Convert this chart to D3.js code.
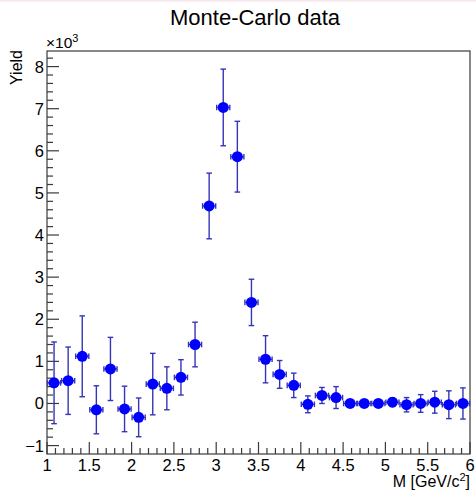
<!DOCTYPE html>
<html>
<head>
<meta http-equiv="Content-Type" content="text/html;charset=utf-8">
<script src="https://d3js.org/d3.v7.min.js"></script>
<title>Monte-Carlo data</title>
<style>
  body { margin: 0; background: #fff; }
  svg { display: block; }
  text { font-family: "Liberation Sans", Arial, sans-serif; fill: #000; }
</style>
</head>
<body>
<svg width="476" height="494"></svg>
<script>
// histogram: 30 bins between 1 and 6 GeV/c^2, values in units of 10^3
var binLow = 1, binHigh = 6;
var yields = [0.49, 0.54, 1.12, -0.15, 0.82, -0.13, -0.33, 0.46, 0.36, 0.62,
              1.40, 4.69, 7.03, 5.86, 2.40, 1.05, 0.69, 0.43, -0.02, 0.19,
              0.14, 0.00, 0.00, 0.00, 0.03, -0.03, 0.00, 0.03, -0.03, 0.00];
var errors = [0.97, 0.80, 0.96, 0.57, 0.75, 0.54, 0.46, 0.73, 0.51, 0.42,
              0.53, 0.78, 0.91, 0.84, 0.55, 0.56, 0.33, 0.29, 0.20, 0.19,
              0.26, 0.06, 0.06, 0.06, 0.10, 0.17, 0.21, 0.26, 0.33, 0.37];
var xTicks = [1, 1.5, 2, 2.5, 3, 3.5, 4, 4.5, 5, 5.5, 6];
var yTicks = [-1, 0, 1, 2, 3, 4, 5, 6, 7, 8];

// frame edges (px); "top" is reserved on window so use other names
var frameL = 47, frameR = 470, frameT = 51, frameB = 454;
var nBins = yields.length;
var bw = (binHigh - binLow) / nBins;

var svg = d3.select("svg");

var x = d3.scaleLinear().domain([binLow, binHigh]).range([frameL, frameR]);
var y = d3.scaleLinear().domain([-1.2, 8.37]).range([frameB, frameT]);

// faint canvas border at top
svg.append("rect").attr("x", 0).attr("y", 0).attr("width", 476).attr("height", 1.5)
    .attr("fill", "#f6e6ea");

// frame
svg.append("rect")
    .attr("x", frameL).attr("y", frameT)
    .attr("width", frameR - frameL).attr("height", frameB - frameT)
    .attr("fill", "none").attr("stroke", "#3a3a3a").attr("stroke-width", 1.2);

// x ticks (pointing inward)
var xMinor = d3.range(0, 51).map(function(i){ return binLow + i * 0.1; });
svg.append("g").selectAll("line").data(xMinor).enter().append("line")
    .attr("x1", function(d){ return x(d); }).attr("x2", function(d){ return x(d); })
    .attr("y1", frameB)
    .attr("y2", function(d, i){ return frameB - (i % 5 === 0 ? 12 : 6); })
    .attr("stroke", "#3a3a3a").attr("stroke-width", 1.2);

svg.append("g").selectAll("text").data(xTicks).enter().append("text")
    .attr("x", function(d){ return x(d); })
    .attr("y", 471)
    .attr("text-anchor", "middle")
    .attr("font-size", 16.5)
    .text(function(d){ return d; });

// y ticks
var yMinor = d3.range(0, 47).map(function(i){ return -1 + i * 0.2; });
svg.append("g").selectAll("line").data(yMinor).enter().append("line")
    .attr("y1", function(d){ return y(d); }).attr("y2", function(d){ return y(d); })
    .attr("x1", frameL)
    .attr("x2", function(d, i){ return frameL + (i % 5 === 0 ? 12 : 6); })
    .attr("stroke", "#3a3a3a").attr("stroke-width", 1.2);

svg.append("g").selectAll("text").data(yTicks).enter().append("text")
    .attr("x", 44)
    .attr("y", function(d){ return y(d) + 6; })
    .attr("text-anchor", "end")
    .attr("font-size", 16.5)
    .text(function(d){ return d < 0 ? "\u2212" + Math.abs(d) : d; });

// exponent label
var ex = svg.append("text").attr("x", 46).attr("y", 48).attr("font-size", 15.5);
ex.append("tspan").text("\u00d710");
ex.append("tspan").attr("dy", -6).attr("font-size", 11).text("3");

// title and axis titles
svg.append("text").attr("x", 255).attr("y", 25)
    .attr("text-anchor", "middle").attr("font-size", 22)
    .text("Monte-Carlo data");

svg.append("text")
    .attr("transform", "translate(22,50) rotate(-90)")
    .attr("text-anchor", "end").attr("font-size", 16)
    .text("Yield");

var xt = svg.append("text").attr("x", 470).attr("y", 487)
    .attr("text-anchor", "end").attr("font-size", 16);
xt.append("tspan").text("M [GeV/c");
xt.append("tspan").attr("dy", -6).attr("font-size", 11).text("2");
xt.append("tspan").attr("dy", 6).text("]");

// data points
var pts = yields.map(function(v, i){
    return { c: binLow + bw * (i + 0.5), v: v, e: errors[i] };
});

var eb = svg.append("g").attr("stroke", "#3535b8").attr("stroke-width", 1.4).attr("fill", "none");
var cap = 2.8;
pts.forEach(function(p){
    var cx = x(p.c), cy = y(p.v);
    var yt = y(p.v + p.e), yb = y(p.v - p.e);
    var xl = x(p.c - bw / 2) + 0.5, xr = x(p.c + bw / 2) - 0.5;
    eb.append("line").attr("x1", cx).attr("x2", cx).attr("y1", yt).attr("y2", yb);
    eb.append("line").attr("x1", cx - cap).attr("x2", cx + cap).attr("y1", yt).attr("y2", yt);
    eb.append("line").attr("x1", cx - cap).attr("x2", cx + cap).attr("y1", yb).attr("y2", yb);
    eb.append("line").attr("x1", xl).attr("x2", xr).attr("y1", cy).attr("y2", cy);
    eb.append("line").attr("x1", xl).attr("x2", xl).attr("y1", cy - cap).attr("y2", cy + cap);
    eb.append("line").attr("x1", xr).attr("x2", xr).attr("y1", cy - cap).attr("y2", cy + cap);
});

svg.append("g").selectAll("circle").data(pts).enter().append("circle")
    .attr("cx", function(d){ return x(d.c); })
    .attr("cy", function(d){ return y(d.v); })
    .attr("r", 5.5)
    .attr("fill", "#0000ff");
</script>
</body>
</html>
